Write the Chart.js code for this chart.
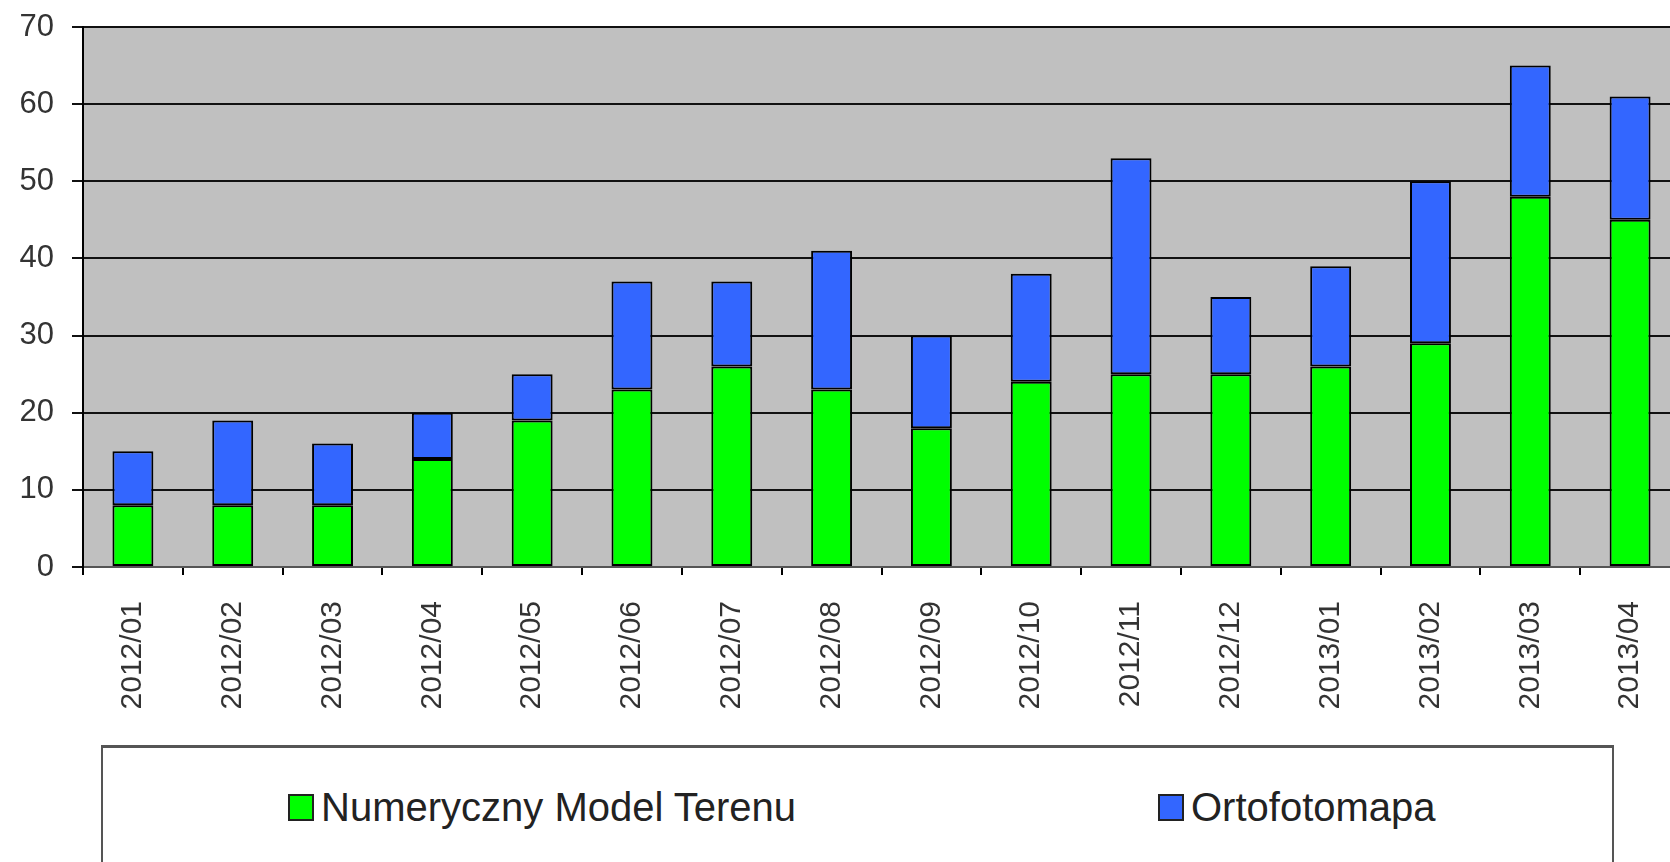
<!DOCTYPE html>
<html>
<head>
<meta charset="utf-8">
<script src="https://cdn.jsdelivr.net/npm/chart.js@4"></script>
<style>
  html, body { margin: 0; padding: 0; background: #fff; overflow: hidden; }
  #wrap { position: relative; width: 1670px; height: 862px; overflow: hidden; }
  #chart { position: absolute; left: 0; top: 0; }
  #legenda {
    position: absolute; left: 101px; top: 745px; width: 1513px; height: 140px;
    border: 2px solid #555; border-top-width: 3px; background: #fff; box-sizing: border-box;
    font-family: "Liberation Sans", Arial, sans-serif; font-size: 40px; color: #222;
  }
  .item { position: absolute; top: 39px; line-height: 40px; display: flex; align-items: center; }
  .kwadrat { width: 22px; height: 23px; border: 2px solid #222; margin-right: 7px; }
</style>
</head>
<body>
<div id="wrap">
  <canvas id="chart" width="1700" height="862"></canvas>
  <div id="legenda">
    <div class="item" style="left:185px"><span class="kwadrat" style="background:#00ff00"></span>Numeryczny Model Terenu</div>
    <div class="item" style="left:1055px"><span class="kwadrat" style="background:#3366ff"></span>Ortofotomapa</div>
  </div>
</div>
<script>
  const miesiace = ['2012/01', '2012/02', '2012/03', '2012/04', '2012/05', '2012/06', '2012/07', '2012/08',
    '2012/09', '2012/10', '2012/11', '2012/12', '2013/01', '2013/02', '2013/03', '2013/04'];
  const modelTerenu = [8, 8, 8, 14, 19, 23, 26, 23, 18, 24, 25, 25, 26, 29, 48, 45];
  const ortofotomapa = [7, 11, 8, 6, 6, 14, 11, 18, 12, 14, 28, 10, 13, 21, 17, 16];

  const rodzina = '"Liberation Sans", Arial, sans-serif';

  // szare tlo obszaru wykresu
  const tloWykresu = {
    id: 'tloWykresu',
    beforeDraw(chart) {
      const { ctx, chartArea: a } = chart;
      ctx.save();
      ctx.fillStyle = '#c0c0c0';
      ctx.fillRect(a.left, a.top, a.right - a.left, a.bottom - a.top);
      ctx.strokeStyle = '#999';
      ctx.lineWidth = 2;
      ctx.beginPath();
      ctx.moveTo(a.left, a.top);
      ctx.lineTo(a.right, a.top);
      ctx.stroke();
      ctx.restore();
    }
  };

  const ctx = document.getElementById('chart').getContext('2d');
  new Chart(ctx, {
    type: 'bar',
    data: {
      labels: miesiace,
      datasets: [{
        label: 'Numeryczny Model Terenu',
        data: modelTerenu,
        backgroundColor: '#00ff00',
        borderColor: '#000',
        borderWidth: 2,
        borderSkipped: false
      }, {
        label: 'Ortofotomapa',
        data: ortofotomapa,
        backgroundColor: '#3366ff',
        borderColor: '#000',
        borderWidth: 2,
        borderSkipped: false
      }]
    },
    options: {
      responsive: false,
      animation: false,
      categoryPercentage: 1,
      barPercentage: 0.41,
      layout: { padding: { top: 27, right: 20, left: 0, bottom: 0 } },
      plugins: {
        legend: { display: false },
        tooltip: { enabled: false }
      },
      scales: {
        x: {
          stacked: true,
          grid: { drawOnChartArea: false, drawTicks: true, tickLength: 8, color: '#000', lineWidth: 2 },
          border: { color: '#555', width: 2 },
          ticks: { font: { family: rodzina, size: 30 }, color: '#333', minRotation: 90, maxRotation: 90, padding: 26, autoSkip: false },
          afterFit(s) { s.height = 295; }
        },
        y: {
          stacked: true,
          min: 0,
          max: 70,
          grid: { color: '#111', lineWidth: 2, tickLength: 11 },
          border: { color: '#000', width: 2 },
          ticks: { stepSize: 10, font: { family: rodzina, size: 31 }, color: '#333', padding: 18 },
          afterFit(s) {
            s.width = 83;
            s.paddingTop = 0;
            s.paddingBottom = 0;
          }
        }
      }
    },
    plugins: [tloWykresu]
  });
</script>
</body>
</html>
